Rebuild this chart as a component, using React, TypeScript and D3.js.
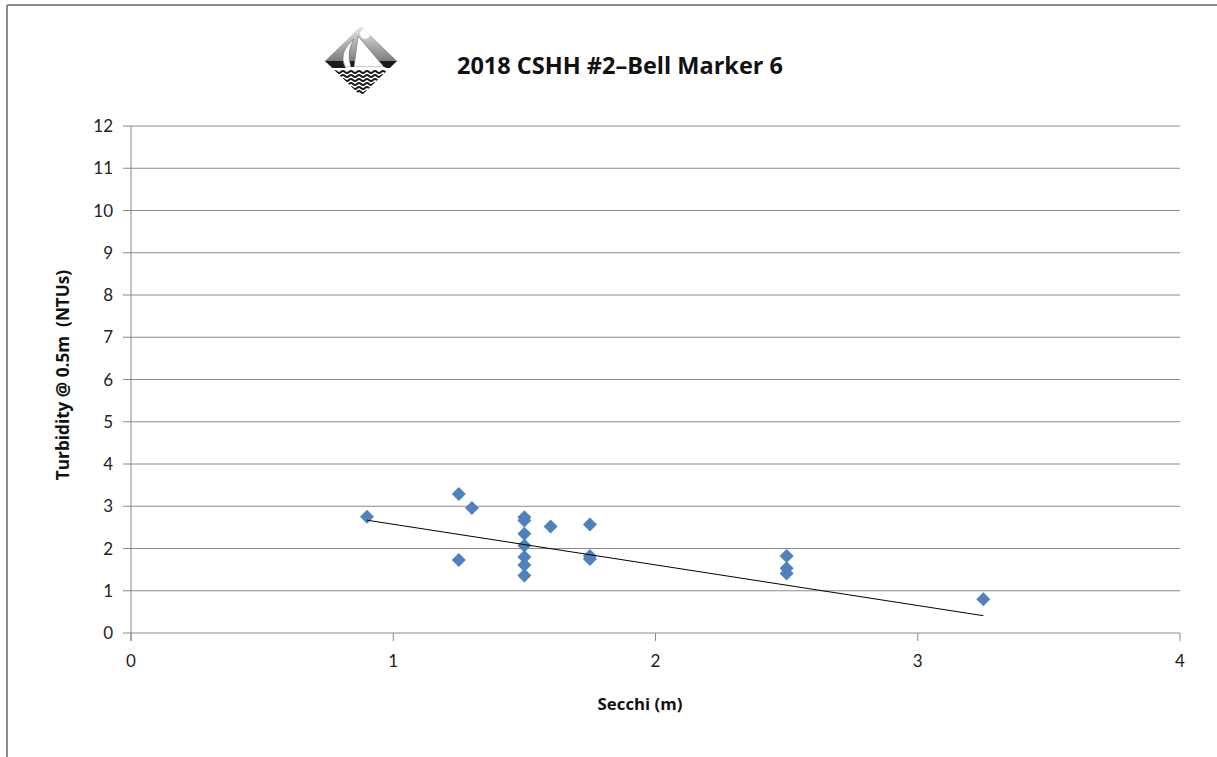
import React from "react";
import * as d3 from "d3";

const title = "2018 CSHH #2\u2013Bell Marker 6";
const xLabel = "Secchi (m)";
const yLabel = "Turbidity @ 0.5m  (NTUs)";

const secchi = [0.9, 1.25, 1.3, 1.25, 1.5, 1.5, 1.5, 1.5, 1.5, 1.5, 1.5, 1.6, 1.75, 1.75, 1.75, 2.5, 2.5, 2.5, 3.25];
const turbidity = [2.75, 3.29, 2.96, 1.73, 2.74, 2.66, 2.35, 2.07, 1.8, 1.61, 1.36, 2.52, 2.57, 1.82, 1.75, 1.82, 1.53, 1.41, 0.8];

const trendX = [0.9, 3.25];
const trendY = [2.67, 0.41];

const xTicks = [0, 1, 2, 3, 4];
const yTicks = [0, 1, 2, 3, 4, 5, 6, 7, 8, 9, 10, 11, 12];

const W = 1217;
const H = 757;
const FONT = "Lato, 'Open Sans', sans-serif";
const BFONT = "'Open Sans', Lato, sans-serif";

export default function App() {
  const x = d3.scaleLinear().domain([0, 4]).range([131, 1180]);
  const y = d3.scaleLinear().domain([0, 12]).range([633, 126]);
  const grid = "#8a8a8a";
  const r = 7;
  const diamond = (cx: number, cy: number) =>
    `M${cx},${cy - r}L${cx + r},${cy}L${cx},${cy + r}L${cx - r},${cy}Z`;
  const line = d3
    .line<number>()
    .x((_, i) => x(trendX[i]))
    .y((d) => y(d));

  // logo geometry
  const lx = 361, ly = 61, hw = 36, hh = 35;
  const diamondLogo = `M${lx},${ly - hh}L${lx + hw},${ly}L${lx},${ly + hh}L${lx - hw},${ly}Z`;
  const waves: string[] = [];
  for (let k = 0; k < 6; k++) {
    const yy = 72 + k * 4;
    let p = `M${lx - hw},${yy}`;
    for (let s = lx - hw; s < lx + hw; s += 8) {
      p += `Q${s + 2},${yy - 2} ${s + 4},${yy} T${s + 8},${yy}`;
    }
    waves.push(p);
  }

  return (
    <svg
      width={W}
      height={H}
      style={{ position: "absolute", left: 0, top: 0, background: "#fff" }}
    >
      <defs>
        <clipPath id="logoClip">
          <path d={diamondLogo} />
        </clipPath>
        <linearGradient id="sky" x1="0" y1="0" x2="0" y2="1">
          <stop offset="0" stopColor="#e8e8e8" />
          <stop offset="1" stopColor="#7a7a7a" />
        </linearGradient>
      </defs>
      <rect x={0} y={0} width={W} height={H} fill="#fff" />
      <line x1={7} y1={5} x2={W} y2={5} stroke="#8c8c8c" strokeWidth={2} />
      <line x1={7} y1={5} x2={7} y2={H} stroke="#8c8c8c" strokeWidth={2} />

      {/* logo */}
      <g clipPath="url(#logoClip)">
        <rect x={lx - hw} y={ly - hh} width={hw * 2} height={hh + 1} fill="url(#sky)" />
        <rect x={lx - hw} y={ly} width={hw * 2} height={7} fill="#1a1a1a" />
        <rect x={lx - hw} y={ly + 7} width={hw * 2} height={hh} fill="#fff" />
        {waves.map((p, i) => (
          <path key={i} d={p} fill="none" stroke="#1a1a1a" strokeWidth={1.8} />
        ))}
        <circle cx={365} cy={34} r={5} fill="#fff" />
        <path d="M358,36 L354,67 L384,67 Z" fill="#fff" stroke="#666" strokeWidth={0.6} />
        <path d="M354,39 Q338,52 345,67 L351,67 Q346,52 354,39 Z" fill="#fff" stroke="#666" strokeWidth={0.6} />
        <path d="M345,67 L386,67 L382,70 L349,70 Z" fill="#fff" />
      </g>

      <text
        x={620}
        y={74}
        textAnchor="middle"
        fontFamily={BFONT}
        fontWeight="bold"
        fontSize={23.5}
        fill="#111"
      >
        {title}
      </text>

      {/* gridlines */}
      {yTicks.map((t) => (
        <line key={t} x1={123} x2={1180} y1={y(t)} y2={y(t)} stroke={grid} strokeWidth={1} />
      ))}
      <line x1={x(0)} x2={x(0)} y1={y(12)} y2={641} stroke={grid} strokeWidth={1} />
      {xTicks.map((t) => (
        <line key={t} x1={x(t)} x2={x(t)} y1={y(0)} y2={641} stroke={grid} strokeWidth={1} />
      ))}

      {yTicks.map((t) => (
        <text
          key={t}
          x={113}
          y={y(t)}
          dy="0.36em"
          textAnchor="end"
          fontFamily={FONT}
          fontSize={17}
          fill="#222"
        >
          {t}
        </text>
      ))}
      {xTicks.map((t) => (
        <text
          key={t}
          x={x(t)}
          y={667}
          textAnchor="middle"
          fontFamily={FONT}
          fontSize={17}
          fill="#222"
        >
          {t}
        </text>
      ))}

      <text
        x={640}
        y={710}
        textAnchor="middle"
        fontFamily={BFONT}
        fontWeight="bold"
        fontSize={16.8}
        fill="#111"
      >
        {xLabel}
      </text>
      <text
        transform={`translate(69,${375}) rotate(-90)`}
        textAnchor="middle"
        fontFamily={BFONT}
        fontWeight="bold"
        fontSize={17.2}
        fill="#111"
        style={{ whiteSpace: "pre" }}
      >
        {yLabel}
      </text>

      {secchi.map((sx, i) => (
        <path key={i} d={diamond(x(sx), y(turbidity[i]))} fill="#4F81BD" />
      ))}
      <path d={line(trendY) || ""} fill="none" stroke="#000" strokeWidth={1} />
    </svg>
  );
}
